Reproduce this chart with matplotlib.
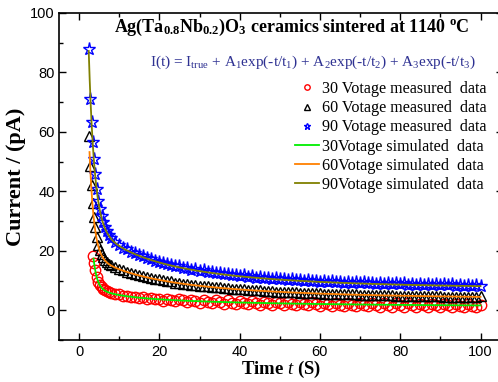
import numpy as np
import matplotlib
matplotlib.use("Agg")
import matplotlib.pyplot as plt
from matplotlib.ticker import MultipleLocator

plt.rcParams["mathtext.fontset"] = "custom"
plt.rcParams["mathtext.rm"] = "Liberation Serif"
plt.rcParams["mathtext.it"] = "Liberation Serif:italic"
plt.rcParams["mathtext.bf"] = "Liberation Serif:bold"

# sampling times of the measurements (s)
time_s = [2.4, 2.8, 3.1, 3.4, 3.7, 4.0, 4.4, 4.8, 5.2, 5.6, 6.0, 6.5, 7.0, 7.5, 8,
          9, 10, 11, 12, 13, 14, 15, 16, 17, 18, 19, 20,
          21, 22, 23, 24, 25, 26, 27, 28, 29, 30, 31, 32, 33, 34, 35, 36, 37, 38, 39, 40,
          41, 42, 43, 44, 45, 46, 47, 48, 49, 50, 51, 52, 53, 54, 55, 56, 57, 58, 59, 60,
          61, 62, 63, 64, 65, 66, 67, 68, 69, 70, 71, 72, 73, 74, 75, 76, 77, 78, 79, 80,
          81, 82, 83, 84, 85, 86, 87, 88, 89, 90, 91, 92, 93, 94, 95, 96, 97, 98, 99, 100]

# measured current (pA)
meas_90 = [88.0, 71.2, 63.4, 56.5, 50.8, 45.9, 40.9, 36.9, 33.9, 31.6, 29.7, 27.9, 26.5, 25.3, 24.4,
           22.9, 22.0, 21.1, 20.5, 19.7, 19.2, 18.6, 18.2, 17.5, 17.3, 16.7, 16.4,
           15.9, 15.6, 15.3, 14.8, 14.9, 14.3, 14.2, 13.7, 13.8, 13.2, 13.4, 12.9, 12.8, 12.6,
           12.4, 12.1, 12.3, 11.8, 11.9, 11.5,
           11.7, 11.2, 11.4, 11.0, 11.1, 10.8, 11.0, 10.6, 10.8, 10.4, 10.6, 10.2, 10.5, 10.1,
           10.3, 9.9, 10.2, 9.8, 10.0, 9.6,
           9.9, 9.5, 9.8, 9.4, 9.6, 9.3, 9.6, 9.2, 9.4, 9.1, 9.4, 9.0, 9.3, 8.9, 9.2, 8.9,
           9.1, 8.8, 9.1, 8.7,
           9.0, 8.6, 8.9, 8.6, 8.9, 8.5, 8.8, 8.5, 8.8, 8.4, 8.7, 8.4, 8.7, 8.3, 8.6, 8.3,
           8.6, 8.2, 8.5, 8.3]
meas_60 = [58.5, 48.4, 42.3, 36.1, 31.5, 28.0, 24.6, 22.0, 20.2, 18.9, 17.8, 16.9, 16.2, 15.6, 15.2,
           14.5, 13.9, 13.5, 13.0, 12.6, 12.2, 11.8, 11.5, 11.2, 10.9, 10.6, 10.4,
           10.1, 9.8, 9.7, 9.3, 9.3, 8.9, 8.9, 8.6, 8.5, 8.3, 8.3, 8.0, 7.9, 7.7, 7.7, 7.5,
           7.4, 7.3, 7.2, 7.1,
           7.0, 6.9, 6.8, 6.7, 6.7, 6.5, 6.5, 6.4, 6.3, 6.2, 6.2, 6.1, 6.0, 6.0, 5.9, 5.9,
           5.8, 5.8, 5.7, 5.7,
           5.6, 5.6, 5.5, 5.5, 5.4, 5.4, 5.4, 5.3, 5.3, 5.2, 5.2, 5.2, 5.1, 5.1, 5.1, 5.0,
           5.0, 5.0, 4.9, 4.9,
           4.9, 4.9, 4.8, 4.8, 4.8, 4.8, 4.7, 4.7, 4.7, 4.7, 4.6, 4.6, 4.6, 4.6, 4.6, 4.5,
           4.6, 4.5, 4.5, 4.7]
meas_30 = [18.2, 15.8, 13.5, 11.2, 9.6, 8.5, 7.8, 7.2, 6.7, 6.4, 6.0, 5.9,
           5.5, 5.3, 4.9, 4.9, 4.5, 4.6, 4.2, 4.3, 3.9, 4.1, 3.7, 3.9,
           3.2, 3.9, 3.3, 3.0, 3.8, 3.4, 2.7, 3.6, 3.0, 2.5, 3.5, 2.9, 2.4, 3.3, 2.8, 2.2,
           3.3, 2.6, 2.1, 3.1,
           2.6, 2.0, 3.1, 2.4, 1.9, 2.9, 2.4, 1.8, 2.9, 2.3, 1.7, 2.8, 2.2, 1.6, 2.7, 2.1,
           1.6, 2.7, 2.0, 1.5,
           2.6, 2.0, 1.4, 2.6, 1.9, 1.4, 2.5, 1.9, 1.3, 2.5, 1.8, 1.3, 2.4, 1.8, 1.2, 2.4,
           1.7, 1.2, 2.3, 1.7,
           1.1, 2.3, 1.7, 1.1, 2.2, 1.6, 1.0, 2.2, 1.6, 1.0, 2.2, 1.6, 1.0, 2.1, 1.5, 1.0,
           2.1, 1.5, 1.0, 1.6]

# fit parameters: I_true, A1, t1, A2, t2, A3, t3
fit_90 = [7.5, 325.0, 1.4, 12.6, 10.9, 11.9, 33.5]
fit_60 = [4.0, 370.0, 1.1, 7.9, 10.7, 8.85, 34.8]
fit_30 = [1.4, 544.0, 0.9, 5.0, 6.1, 3.6, 36.5]
fit_start = [2.4, 2.6, 3.6]  # first fitted time for 90, 60, 30 V


def model(t, p):
    i0, a1, t1, a2, t2, a3, t3 = p
    return i0 + a1 * np.exp(-t / t1) + a2 * np.exp(-t / t2) + a3 * np.exp(-t / t3)


fig = plt.figure(figsize=(4.98, 3.82), dpi=100)
ax = fig.add_axes([0.1193, 0.110, 0.8907, 0.856])

t = np.array(time_s)
ax.plot(t[-len(meas_30):], meas_30, ls="none", marker="o", ms=7.5, mfc="none", mec="red",
        mew=1.0, label="30 Votage measured  data")
ax.plot(t, meas_60, ls="none", marker="^", ms=7.5, mfc="none", mec="black",
        mew=1.0, label="60 Votage measured  data")
ax.plot(t, meas_90, ls="none", marker="*", ms=9.5, mfc="none", mec="blue",
        mew=1.0, label="90 Votage measured  data")

for p, s, c, lab in [(fit_30, fit_start[2], "#00ee00", "30Votage simulated  data"),
                     (fit_60, fit_start[1], "#ff8000", "60Votage simulated  data"),
                     (fit_90, fit_start[0], "#808000", "90Votage simulated  data")]:
    tt = np.linspace(s, 100, 400)
    ax.plot(tt, model(tt, p), color=c, lw=1.3, label=lab)

ax.set_xlim(-4.9, 105.6)
ax.set_ylim(-10, 100)
ax.xaxis.set_major_locator(MultipleLocator(20))
ax.xaxis.set_minor_locator(MultipleLocator(10))
ax.yaxis.set_major_locator(MultipleLocator(20))
ax.yaxis.set_minor_locator(MultipleLocator(10))
ax.tick_params(which="both", direction="in", top=True, right=True, labelsize=10.5)
ax.tick_params(which="major", length=5, width=1)
ax.tick_params(which="minor", length=3, width=1)
for sp in ax.spines.values():
    sp.set_linewidth(1.2)
for lbl in ax.get_xticklabels() + ax.get_yticklabels():
    lbl.set_fontfamily("Liberation Sans")

ax.set_xlabel("Time $\\mathbf{\\it{t}}$ (S)", fontfamily="Liberation Serif",
              fontweight="bold", fontsize=13.5, labelpad=0)
ax.set_ylabel("Current / (pA)", fontfamily="Liberation Serif",
              fontweight="bold", fontsize=16, labelpad=3)

fig.text(0.586, 0.929,
         "Ag(Ta$_{\\mathbf{0.8}}$Nb$_{\\mathbf{0.2}}$)O$_{\\mathbf{3}}$ ceramics sintered at 1140 $^{\\mathbf{o}}$C",
         ha="center", va="center", fontfamily="Liberation Serif", fontweight="bold", fontsize=13)
fig.text(0.628, 0.838,
         "I(t) = I$_{\\mathrm{true}}$ + A$_{\\mathrm{1}}$exp(-t/t$_{\\mathrm{1}}$) + "
         "A$_{\\mathrm{2}}$exp(-t/t$_{\\mathrm{2}}$) + A$_{\\mathrm{3}}$exp(-t/t$_{\\mathrm{3}}$)",
         ha="center", va="center", fontfamily="Liberation Serif", fontsize=11, color="#2e3192")

leg = ax.legend(loc="upper right", bbox_to_anchor=(0.99, 0.805), bbox_transform=fig.transFigure,
                frameon=False, fontsize=11.6, markerscale=0.52, handlelength=1.5,
                handletextpad=0.2, labelspacing=0.2, borderaxespad=0)
for txt in leg.get_texts():
    txt.set_fontfamily("Liberation Serif")

fig.savefig("out.png", dpi=100)
